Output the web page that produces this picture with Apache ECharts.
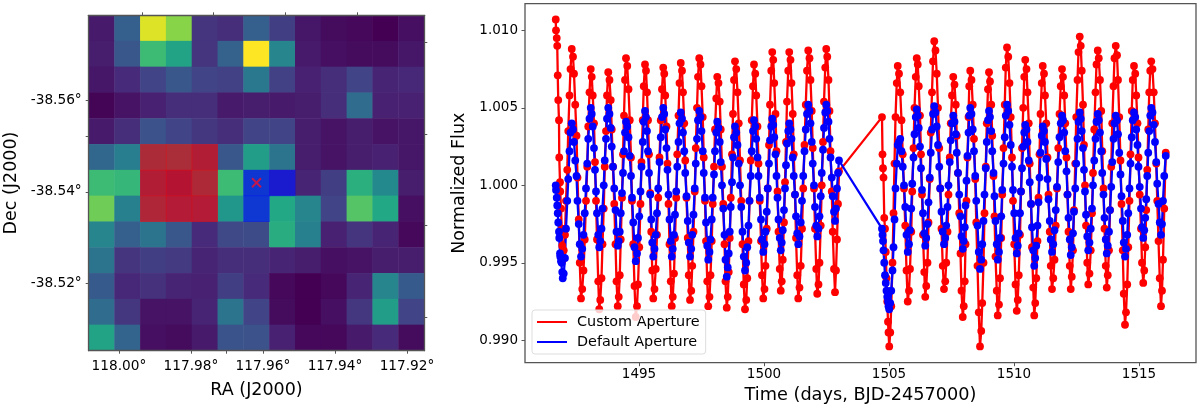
<!DOCTYPE html>
<html>
<head>
<meta charset="utf-8">
<title>TESS aperture light curves</title>
<style>
  html, body { margin: 0; padding: 0; background: #fff; }
  #chart { width: 1200px; height: 408px; }
</style>
<script src="https://cdn.jsdelivr.net/npm/echarts@6/dist/echarts.min.js"></script>
</head>
<body>
<div id="chart"></div>
<script>
// target pixel file, rows top to bottom, viridis scale 0-1
const pixelRows = [
  [0.07, 0.30, 0.95, 0.82, 0.15, 0.13, 0.30, 0.18, 0.06, 0.03, 0.02, 0.00, 0.04],
  [0.08, 0.27, 0.68, 0.58, 0.15, 0.31, 1.00, 0.45, 0.07, 0.04, 0.03, 0.03, 0.06],
  [0.06, 0.12, 0.20, 0.27, 0.20, 0.19, 0.40, 0.19, 0.09, 0.13, 0.20, 0.10, 0.11],
  [0.01, 0.05, 0.09, 0.13, 0.13, 0.07, 0.08, 0.07, 0.08, 0.13, 0.35, 0.09, 0.09],
  [0.07, 0.13, 0.25, 0.20, 0.16, 0.13, 0.20, 0.20, 0.08, 0.05, 0.08, 0.05, 0.06],
  [0.33, 0.42, 0.35, 0.38, 0.22, 0.27, 0.55, 0.38, 0.08, 0.05, 0.08, 0.09, 0.06],
  [0.68, 0.66, 0.22, 0.15, 0.33, 0.68, 0.47, 0.20, 0.10, 0.18, 0.63, 0.47, 0.08],
  [0.78, 0.43, 0.30, 0.20, 0.20, 0.52, 0.48, 0.60, 0.45, 0.20, 0.73, 0.60, 0.04],
  [0.45, 0.30, 0.38, 0.27, 0.12, 0.22, 0.23, 0.62, 0.43, 0.09, 0.15, 0.10, 0.02],
  [0.38, 0.15, 0.18, 0.17, 0.10, 0.13, 0.13, 0.10, 0.08, 0.04, 0.05, 0.08, 0.08],
  [0.28, 0.11, 0.14, 0.10, 0.09, 0.18, 0.12, 0.02, 0.00, 0.02, 0.10, 0.45, 0.28],
  [0.35, 0.16, 0.05, 0.05, 0.10, 0.38, 0.20, 0.03, 0.00, 0.04, 0.16, 0.55, 0.20],
  [0.58, 0.32, 0.04, 0.03, 0.07, 0.26, 0.25, 0.09, 0.02, 0.02, 0.07, 0.12, 0.03]
]
// [col, row, 1] of the apertures
const customAperture = [[2, 5, 1], [3, 5, 1], [4, 5, 1], [2, 6, 1], [3, 6, 1], [4, 6, 1], [2, 7, 1], [3, 7, 1], [4, 7, 1]]
const defaultAperture = [[6, 6, 1], [7, 6, 1], [6, 7, 1]]
const targetPos = [117.9618, -38.542]

const raTicks = [118.00, 117.98, 117.96, 117.94, 117.92]
const raMinorTicks = [117.9701]
const raTopTicks = [117.9936, 117.9737, 117.9537, 117.9337]
const decTicks = [-38.56, -38.54, -38.52]
const decMinorTicks = [-38.5521]
const decRightTicks = [-38.5727, -38.5526, -38.5326, -38.5126]
const timeTicks = [1495, 1500, 1505, 1510, 1515]
const fluxTicks = [0.990, 0.995, 1.000, 1.005, 1.010]

// one row per half wave, same row layout in the three lists
const times = [
  1491.67, 1491.68, 1491.71, 1491.73, 1491.75, 1491.77, 1491.80, 1491.81, 1491.84, 1491.85, 1491.88, 1491.91, 1491.93, 1491.95,
  1491.99, 1492.04, 1492.08, 1492.13, 1492.17, 1492.22, 1492.26, 1492.31,
  1492.36, 1492.40, 1492.45, 1492.50, 1492.54, 1492.59, 1492.63, 1492.68,
  1492.73, 1492.78, 1492.83, 1492.88, 1492.93, 1492.97, 1493.02, 1493.07,
  1493.11, 1493.15, 1493.20, 1493.24, 1493.28, 1493.32, 1493.37, 1493.41,
  1493.45, 1493.50, 1493.54, 1493.59, 1493.63, 1493.68, 1493.72, 1493.77,
  1493.82, 1493.87, 1493.91, 1493.96, 1494.01, 1494.06, 1494.10, 1494.15,
  1494.19, 1494.23, 1494.27, 1494.32, 1494.36, 1494.40, 1494.44, 1494.48,
  1494.53, 1494.58, 1494.63, 1494.68, 1494.72, 1494.77, 1494.82, 1494.87,
  1494.92, 1494.96, 1495.01, 1495.06, 1495.10, 1495.15, 1495.19, 1495.24,
  1495.28, 1495.32, 1495.36, 1495.40, 1495.45, 1495.49, 1495.53, 1495.57,
  1495.62, 1495.67, 1495.72, 1495.77, 1495.82, 1495.87, 1495.92, 1495.97,
  1496.01, 1496.05, 1496.10, 1496.14, 1496.18, 1496.22, 1496.27, 1496.31,
  1496.35, 1496.40, 1496.44, 1496.49, 1496.53, 1496.58, 1496.62, 1496.67,
  1496.72, 1496.76, 1496.81, 1496.85, 1496.90, 1496.95, 1496.99, 1497.04,
  1497.09, 1497.13, 1497.18, 1497.23, 1497.27, 1497.32, 1497.36, 1497.41,
  1497.46, 1497.50, 1497.55, 1497.59, 1497.64, 1497.68, 1497.73, 1497.77,
  1497.82, 1497.86, 1497.91, 1497.95, 1498.00, 1498.04, 1498.09, 1498.13,
  1498.18, 1498.23, 1498.27, 1498.32, 1498.37, 1498.42, 1498.46, 1498.51,
  1498.55, 1498.59, 1498.63, 1498.67, 1498.72, 1498.76, 1498.80, 1498.84,
  1498.89, 1498.94, 1498.99, 1499.04, 1499.09, 1499.14, 1499.19, 1499.24,
  1499.29, 1499.33, 1499.38, 1499.42, 1499.47, 1499.51, 1499.56, 1499.60,
  1499.65, 1499.69, 1499.74, 1499.78, 1499.83, 1499.88, 1499.92, 1499.97,
  1500.02, 1500.06, 1500.11, 1500.15, 1500.20, 1500.24, 1500.29, 1500.33,
  1500.37, 1500.41, 1500.46, 1500.50, 1500.54, 1500.58, 1500.63, 1500.67,
  1500.71, 1500.75, 1500.80, 1500.84, 1500.88, 1500.92, 1500.97, 1501.01,
  1501.06, 1501.10, 1501.15, 1501.19, 1501.24, 1501.28, 1501.33, 1501.37,
  1501.42, 1501.47, 1501.52, 1501.57, 1501.62, 1501.67, 1501.72, 1501.77,
  1501.82, 1501.86, 1501.91, 1501.95, 1502.00, 1502.04, 1502.09, 1502.13,
  1502.18, 1502.22, 1502.27, 1502.31, 1502.36, 1502.40, 1502.45, 1502.49,
  1502.53, 1502.58, 1502.62, 1502.66, 1502.71, 1502.75, 1502.80, 1502.84,
  1502.88, 1502.92, 1502.96, 1503.00,
  // after the data gap
  1504.72, 1504.74, 1504.76, 1504.78, 1504.81, 1504.84, 1504.87, 1504.90, 1504.93, 1504.96, 1504.98, 1505.01,
  1505.05, 1505.09, 1505.14, 1505.18, 1505.22, 1505.26, 1505.31, 1505.35,
  1505.40, 1505.45, 1505.50, 1505.55, 1505.60, 1505.65, 1505.70, 1505.75,
  1505.80, 1505.84, 1505.89, 1505.93, 1505.98, 1506.02, 1506.07, 1506.11,
  1506.15, 1506.19, 1506.24, 1506.28, 1506.32, 1506.36, 1506.41, 1506.45,
  1506.49, 1506.54, 1506.58, 1506.63, 1506.67, 1506.72, 1506.76, 1506.81,
  1506.86, 1506.91, 1506.96, 1507.01, 1507.05, 1507.10, 1507.15, 1507.20,
  1507.25, 1507.29, 1507.34, 1507.38, 1507.43, 1507.47, 1507.52, 1507.57,
  1507.62, 1507.67, 1507.71, 1507.76, 1507.81, 1507.86, 1507.90, 1507.95,
  1507.99, 1508.03, 1508.06, 1508.10, 1508.14, 1508.18, 1508.21, 1508.25,
  1508.30, 1508.35, 1508.40, 1508.45, 1508.49, 1508.54, 1508.59, 1508.64,
  1508.69, 1508.73, 1508.78, 1508.82, 1508.87, 1508.91, 1508.96, 1509.00,
  1509.04, 1509.09, 1509.13, 1509.18, 1509.22, 1509.26, 1509.31, 1509.35,
  1509.40, 1509.44, 1509.49, 1509.53, 1509.58, 1509.63, 1509.67, 1509.72,
  1509.77, 1509.82, 1509.87, 1509.92, 1509.96, 1510.01, 1510.06, 1510.11,
  1510.15, 1510.19, 1510.24, 1510.28, 1510.32, 1510.37, 1510.41, 1510.45,
  1510.50, 1510.54, 1510.59, 1510.63, 1510.68, 1510.72, 1510.77, 1510.81,
  1510.85, 1510.89, 1510.94, 1510.98, 1511.02, 1511.06, 1511.11, 1511.15,
  1511.20, 1511.24, 1511.29, 1511.34, 1511.38, 1511.43, 1511.47, 1511.52,
  1511.57, 1511.62, 1511.67, 1511.72, 1511.77, 1511.82, 1511.87, 1511.92,
  1511.96, 1512.01, 1512.05, 1512.10, 1512.14, 1512.18, 1512.23, 1512.27,
  1512.31, 1512.36, 1512.40, 1512.45, 1512.49, 1512.54, 1512.58, 1512.63,
  1512.67, 1512.71, 1512.76, 1512.80, 1512.84, 1512.88, 1512.93, 1512.97,
  1513.02, 1513.07, 1513.12, 1513.16, 1513.21, 1513.26, 1513.30, 1513.35,
  1513.39, 1513.44, 1513.49, 1513.53, 1513.58, 1513.62, 1513.67, 1513.71,
  1513.75, 1513.80, 1513.84, 1513.89, 1513.93, 1513.98, 1514.02, 1514.07,
  1514.12, 1514.16, 1514.21, 1514.26, 1514.30, 1514.35, 1514.39, 1514.44,
  1514.48, 1514.53, 1514.57, 1514.62, 1514.66, 1514.71, 1514.75, 1514.80,
  1514.85, 1514.89, 1514.94, 1514.98, 1515.03, 1515.08, 1515.12, 1515.17,
  1515.21, 1515.25, 1515.29, 1515.33, 1515.37, 1515.41, 1515.45, 1515.49,
  1515.54, 1515.59, 1515.64, 1515.69, 1515.73, 1515.78, 1515.83, 1515.88,
  1515.92, 1515.96, 1516.01, 1516.07
]

const customFlux = [
  1.0107, 1.0100, 1.0095, 1.0090, 1.0071, 1.0055, 1.0042, 1.0018, 1.0002, 0.9996, 0.9985, 0.9972, 0.9961, 0.9952,
  0.9958, 0.9968, 0.9990, 1.0010, 1.0035, 1.0058, 1.0075, 1.0088,
  1.0083, 1.0072, 1.0052, 1.0032, 1.0005, 0.9978, 0.9950, 0.9927,
  0.9933, 0.9945, 0.9965, 0.9990, 1.0012, 1.0038, 1.0060, 1.0075,
  1.0070, 1.0058, 1.0040, 1.0015, 0.9990, 0.9965, 0.9938, 0.9920,
  0.9926, 0.9940, 0.9962, 0.9985, 1.0012, 1.0035, 1.0058, 1.0073,
  1.0068, 1.0055, 1.0036, 1.0012, 0.9988, 0.9962, 0.9938, 0.9922,
  0.9928, 0.9942, 0.9965, 0.9992, 1.0020, 1.0045, 1.0068, 1.0082,
  1.0077, 1.0062, 1.0042, 1.0018, 0.9990, 0.9962, 0.9935, 0.9915,
  0.9922, 0.9936, 0.9960, 0.9988, 1.0015, 1.0042, 1.0064, 1.0078,
  1.0074, 1.0060, 1.0042, 1.0020, 0.9995, 0.9970, 0.9945, 0.9927,
  0.9933, 0.9946, 0.9968, 0.9992, 1.0018, 1.0042, 1.0062, 1.0076,
  1.0072, 1.0058, 1.0038, 1.0014, 0.9988, 0.9962, 0.9938, 0.9922,
  0.9928, 0.9943, 0.9966, 0.9992, 1.0020, 1.0045, 1.0066, 1.0079,
  1.0074, 1.0060, 1.0040, 1.0016, 0.9992, 0.9966, 0.9942, 0.9926,
  0.9932, 0.9948, 0.9970, 0.9996, 1.0024, 1.0050, 1.0070, 1.0082,
  1.0078, 1.0064, 1.0044, 1.0018, 0.9990, 0.9964, 0.9938, 0.9922,
  0.9928, 0.9942, 0.9964, 0.9988, 1.0012, 1.0036, 1.0056, 1.0070,
  1.0066, 1.0054, 1.0036, 1.0012, 0.9988, 0.9962, 0.9938, 0.9921,
  0.9928, 0.9944, 0.9966, 0.9992, 1.0020, 1.0046, 1.0068, 1.0080,
  1.0075, 1.0060, 1.0040, 1.0016, 0.9990, 0.9962, 0.9936, 0.9920,
  0.9926, 0.9940, 0.9964, 0.9990, 1.0016, 1.0042, 1.0064, 1.0078,
  1.0072, 1.0058, 1.0038, 1.0014, 0.9990, 0.9964, 0.9942, 0.9927,
  0.9933, 0.9948, 0.9972, 0.9998, 1.0026, 1.0052, 1.0074, 1.0086,
  1.0081, 1.0066, 1.0046, 1.0022, 0.9996, 0.9970, 0.9946, 0.9932,
  0.9938, 0.9952, 0.9976, 1.0002, 1.0028, 1.0054, 1.0074, 1.0086,
  1.0081, 1.0066, 1.0046, 1.0020, 0.9994, 0.9966, 0.9942, 0.9927,
  0.9934, 0.9948, 0.9972, 0.9998, 1.0026, 1.0052, 1.0074, 1.0087,
  1.0082, 1.0068, 1.0048, 1.0024, 0.9998, 0.9972, 0.9946, 0.9930,
  0.9936, 0.9950, 0.9974, 1.0000, 1.0028, 1.0054, 1.0076, 1.0088,
  1.0083, 1.0068, 1.0048, 1.0022, 0.9996, 0.9970, 0.9946, 0.9931,
  0.9945, 0.9965, 0.9988, 1.0009,
  // after the data gap
  1.0044, 1.0020, 1.0011, 1.0005, 0.9979, 0.9972, 0.9957, 0.9940, 0.9925, 0.9912, 0.9905, 0.9896,
  0.9905, 0.9922, 0.9950, 0.9982, 1.0014, 1.0044, 1.0066, 1.0077,
  1.0072, 1.0060, 1.0042, 1.0020, 0.9998, 0.9974, 0.9945, 0.9925,
  0.9932, 0.9946, 0.9970, 0.9996, 1.0024, 1.0050, 1.0070, 1.0082,
  1.0078, 1.0064, 1.0045, 1.0020, 0.9994, 0.9968, 0.9944, 0.9928,
  0.9935, 0.9950, 0.9976, 1.0004, 1.0034, 1.0060, 1.0080, 1.0093,
  1.0087, 1.0072, 1.0050, 1.0024, 0.9998, 0.9972, 0.9948, 0.9933,
  0.9938, 0.9950, 0.9970, 0.9994, 1.0018, 1.0040, 1.0058, 1.0070,
  1.0065, 1.0052, 1.0032, 1.0008, 0.9982, 0.9956, 0.9932, 0.9915,
  0.9922, 0.9938, 0.9962, 0.9990, 1.0018, 1.0044, 1.0064, 1.0074,
  1.0068, 1.0052, 1.0030, 1.0004, 0.9976, 0.9948, 0.9918, 0.9896,
  0.9906, 0.9924, 0.9950, 0.9982, 1.0012, 1.0040, 1.0062, 1.0073,
  1.0067, 1.0052, 1.0032, 1.0006, 0.9980, 0.9954, 0.9932, 0.9916,
  0.9923, 0.9940, 0.9966, 0.9994, 1.0024, 1.0052, 1.0076, 1.0089,
  1.0083, 1.0066, 1.0044, 1.0018, 0.9990, 0.9962, 0.9936, 0.9919,
  0.9926, 0.9942, 0.9968, 0.9996, 1.0024, 1.0050, 1.0070, 1.0081,
  1.0075, 1.0060, 1.0040, 1.0014, 0.9988, 0.9960, 0.9934, 0.9916,
  0.9924, 0.9940, 0.9964, 0.9992, 1.0020, 1.0046, 1.0066, 1.0077,
  1.0072, 1.0058, 1.0040, 1.0018, 0.9994, 0.9970, 0.9948, 0.9933,
  0.9940, 0.9952, 0.9974, 0.9998, 1.0024, 1.0046, 1.0064, 1.0075,
  1.0070, 1.0058, 1.0040, 1.0018, 0.9994, 0.9970, 0.9948, 0.9933,
  0.9941, 0.9958, 0.9984, 1.0014, 1.0044, 1.0068, 1.0086, 1.0096,
  1.0090, 1.0074, 1.0052, 1.0026, 1.0000, 0.9974, 0.9950, 0.9936,
  0.9943, 0.9958, 0.9982, 1.0008, 1.0036, 1.0060, 1.0078, 1.0087,
  1.0082, 1.0068, 1.0048, 1.0022, 0.9998, 0.9972, 0.9948, 0.9934,
  0.9942, 0.9958, 0.9984, 1.0012, 1.0040, 1.0064, 1.0082, 1.0090,
  1.0084, 1.0068, 1.0044, 1.0016, 0.9988, 0.9958, 0.9930, 0.9910,
  0.9918, 0.9936, 0.9960, 0.9990, 1.0020, 1.0048, 1.0068, 1.0077,
  1.0072, 1.0058, 1.0040, 1.0018, 0.9994, 0.9972, 0.9950, 0.9937,
  0.9945, 0.9960, 0.9984, 1.0010, 1.0036, 1.0060, 1.0074, 1.0080,
  1.0075, 1.0060, 1.0040, 1.0014, 0.9990, 0.9964, 0.9940, 0.9922,
  0.9932, 0.9952, 0.9985, 1.0021
]

const defaultFlux = [
  1.0000, 0.9997, 0.9992, 0.9987, 0.9982, 0.9976, 0.9970, 0.9966, 0.9956, 0.9954, 0.9951, 0.9950, 0.9944, 0.9940,
  0.9943, 0.9953, 0.9972, 0.9990, 1.0004, 1.0022, 1.0034, 1.0040,
  1.0036, 1.0028, 1.0016, 1.0006, 0.9990, 0.9975, 0.9962, 0.9954,
  0.9959, 0.9968, 0.9982, 0.9998, 1.0014, 1.0030, 1.0043, 1.0050,
  1.0046, 1.0038, 1.0024, 1.0010, 0.9996, 0.9982, 0.9968, 0.9960,
  0.9964, 0.9972, 0.9985, 1.0000, 1.0016, 1.0030, 1.0043, 1.0050,
  1.0046, 1.0037, 1.0025, 1.0012, 0.9998, 0.9984, 0.9970, 0.9961,
  0.9964, 0.9970, 0.9982, 0.9995, 1.0008, 1.0022, 1.0034, 1.0041,
  1.0038, 1.0031, 1.0019, 1.0006, 0.9992, 0.9976, 0.9960, 0.9951,
  0.9956, 0.9966, 0.9980, 0.9996, 1.0012, 1.0028, 1.0041, 1.0048,
  1.0044, 1.0035, 1.0022, 1.0008, 0.9994, 0.9978, 0.9963, 0.9954,
  0.9959, 0.9968, 0.9982, 0.9998, 1.0015, 1.0031, 1.0044, 1.0050,
  1.0046, 1.0036, 1.0024, 1.0010, 0.9994, 0.9978, 0.9964, 0.9954,
  0.9959, 0.9968, 0.9981, 0.9996, 1.0012, 1.0028, 1.0040, 1.0047,
  1.0043, 1.0034, 1.0022, 1.0008, 0.9993, 0.9977, 0.9963, 0.9954,
  0.9959, 0.9968, 0.9981, 0.9998, 1.0014, 1.0030, 1.0042, 1.0048,
  1.0044, 1.0035, 1.0022, 1.0008, 0.9992, 0.9976, 0.9961, 0.9952,
  0.9957, 0.9965, 0.9978, 0.9992, 1.0007, 1.0022, 1.0034, 1.0041,
  1.0037, 1.0028, 1.0015, 1.0000, 0.9985, 0.9968, 0.9952, 0.9941,
  0.9947, 0.9956, 0.9970, 0.9986, 1.0002, 1.0018, 1.0031, 1.0038,
  1.0034, 1.0026, 1.0014, 1.0000, 0.9986, 0.9970, 0.9954, 0.9945,
  0.9950, 0.9960, 0.9974, 0.9990, 1.0006, 1.0022, 1.0035, 1.0042,
  1.0038, 1.0030, 1.0018, 1.0006, 0.9992, 0.9978, 0.9965, 0.9957,
  0.9962, 0.9970, 0.9983, 0.9998, 1.0014, 1.0029, 1.0038, 1.0043,
  1.0039, 1.0031, 1.0020, 1.0006, 0.9992, 0.9978, 0.9966, 0.9958,
  0.9963, 0.9971, 0.9984, 0.9998, 1.0013, 1.0027, 1.0035, 1.0040,
  1.0036, 1.0030, 1.0018, 1.0006, 0.9994, 0.9980, 0.9969, 0.9962,
  0.9967, 0.9976, 0.9990, 1.0006, 1.0022, 1.0036, 1.0046, 1.0052,
  1.0048, 1.0040, 1.0028, 1.0014, 1.0000, 0.9986, 0.9974, 0.9967,
  0.9972, 0.9980, 0.9993, 1.0008, 1.0023, 1.0037, 1.0047, 1.0052,
  1.0048, 1.0041, 1.0030, 1.0018, 1.0005, 0.9993, 0.9983, 0.9977,
  0.9985, 0.9998, 1.0008, 1.0016,
  // after the data gap
  0.9972, 0.9968, 0.9964, 0.9958, 0.9950, 0.9942, 0.9937, 0.9932, 0.9928, 0.9925, 0.9922, 0.9920,
  0.9924, 0.9932, 0.9945, 0.9960, 0.9978, 0.9998, 1.0014, 1.0026,
  1.0028, 1.0030, 1.0022, 1.0012, 1.0000, 0.9986, 0.9968, 0.9957,
  0.9962, 0.9971, 0.9985, 1.0001, 1.0018, 1.0033, 1.0044, 1.0049,
  1.0045, 1.0037, 1.0025, 1.0011, 0.9997, 0.9982, 0.9969, 0.9961,
  0.9966, 0.9975, 0.9989, 1.0005, 1.0021, 1.0036, 1.0046, 1.0051,
  1.0047, 1.0038, 1.0026, 1.0012, 0.9998, 0.9983, 0.9970, 0.9962,
  0.9966, 0.9974, 0.9986, 1.0000, 1.0015, 1.0029, 1.0040, 1.0045,
  1.0041, 1.0033, 1.0021, 1.0008, 0.9994, 0.9980, 0.9967, 0.9959,
  0.9964, 0.9973, 0.9987, 1.0003, 1.0019, 1.0034, 1.0045, 1.0050,
  1.0046, 1.0036, 1.0022, 1.0006, 0.9990, 0.9974, 0.9957, 0.9946,
  0.9952, 0.9962, 0.9977, 0.9994, 1.0011, 1.0028, 1.0042, 1.0048,
  1.0044, 1.0035, 1.0022, 1.0008, 0.9993, 0.9977, 0.9962, 0.9952,
  0.9957, 0.9966, 0.9980, 0.9997, 1.0014, 1.0031, 1.0045, 1.0052,
  1.0048, 1.0039, 1.0026, 1.0012, 0.9997, 0.9982, 0.9966, 0.9956,
  0.9961, 0.9969, 0.9982, 0.9996, 1.0011, 1.0025, 1.0034, 1.0039,
  1.0036, 1.0028, 1.0016, 1.0002, 0.9988, 0.9973, 0.9958, 0.9948,
  0.9953, 0.9961, 0.9974, 0.9989, 1.0005, 1.0021, 1.0032, 1.0038,
  1.0035, 1.0028, 1.0017, 1.0004, 0.9991, 0.9977, 0.9965, 0.9957,
  0.9962, 0.9971, 0.9984, 0.9999, 1.0015, 1.0031, 1.0040, 1.0045,
  1.0042, 1.0034, 1.0022, 1.0009, 0.9994, 0.9979, 0.9965, 0.9955,
  0.9960, 0.9969, 0.9983, 0.9998, 1.0014, 1.0030, 1.0041, 1.0047,
  1.0043, 1.0035, 1.0024, 1.0010, 0.9996, 0.9981, 0.9967, 0.9958,
  0.9963, 0.9972, 0.9985, 1.0000, 1.0016, 1.0030, 1.0041, 1.0046,
  1.0042, 1.0034, 1.0022, 1.0008, 0.9994, 0.9979, 0.9965, 0.9956,
  0.9961, 0.9970, 0.9984, 0.9999, 1.0015, 1.0030, 1.0040, 1.0045,
  1.0042, 1.0033, 1.0021, 1.0007, 0.9993, 0.9977, 0.9963, 0.9954,
  0.9959, 0.9968, 0.9982, 0.9998, 1.0014, 1.0031, 1.0042, 1.0047,
  1.0044, 1.0036, 1.0026, 1.0012, 0.9999, 0.9985, 0.9973, 0.9966,
  0.9971, 0.9979, 0.9991, 1.0006, 1.0021, 1.0035, 1.0045, 1.0050,
  1.0047, 1.0039, 1.0028, 1.0015, 1.0001, 0.9988, 0.9976, 0.9968,
  0.9975, 0.9990, 1.0006, 1.0019
]

const viridis = ['#440154', '#482475', '#414487', '#355f8d', '#2a788e', '#21918c', '#22a884', '#44bf70', '#7ad151', '#bddf26', '#fde725']
const fontName = 'DejaVu Sans'
const axisColor = '#555'

const cols = pixelRows[0].map((v, i) => i)
const rows = pixelRows.map((v, i) => i)
const pixelData = []
pixelRows.forEach((row, r) => row.forEach((v, c) => pixelData.push([c, r, v])))

const chart = echarts.init(document.getElementById('chart'), null, { renderer: 'canvas' })

function wcsAxis(grid, extra) {
  return Object.assign({
    type: 'value',
    gridIndex: grid,
    scale: true,
    splitLine: { show: false },
    axisLine: { show: true, onZero: false, lineStyle: { color: axisColor, width: 1.3 } },
    axisTick: { show: false },
    axisLabel: { show: false },
    z: 5
  }, extra)
}

chart.setOption({
  animation: false,
  backgroundColor: '#fff',
  textStyle: { fontFamily: fontName, color: '#000' },
  grid: [
    { left: 88.7, top: 15.3, width: 335.6, height: 335.4, outerBoundsMode: 'none' },
    { left: 525, top: 3.7, width: 671, height: 359, outerBoundsMode: 'none', show: true, backgroundColor: '#fff', borderColor: axisColor, borderWidth: 1.3 }
  ],
  xAxis: [
    { type: 'category', gridIndex: 0, data: cols, show: false },
    wcsAxis(0, {
      position: 'bottom', inverse: true, min: 117.9152, max: 118.0084,
      name: 'RA (J2000)', nameLocation: 'middle', nameGap: 31,
      nameTextStyle: { fontSize: 17.5, fontFamily: fontName, color: '#000' },
      axisTick: { show: true, length: 3, lineStyle: { color: axisColor }, customValues: raTicks.concat(raMinorTicks) },
      axisLabel: {
        show: true, fontSize: 13.7, fontFamily: fontName, color: '#000', margin: 9,
        customValues: raTicks, formatter: v => v.toFixed(2) + '°'
      }
    }),
    wcsAxis(0, {
      position: 'top', inverse: true, min: 117.9152, max: 118.0084,
      axisTick: { show: true, length: 3, lineStyle: { color: axisColor }, customValues: raTopTicks }
    }),
    {
      type: 'value', gridIndex: 1, min: 1490.44, max: 1517.28,
      name: 'Time (days, BJD-2457000)', nameLocation: 'middle', nameGap: 23,
      nameTextStyle: { fontSize: 17.7, fontFamily: fontName, color: '#000' },
      splitLine: { show: false },
      axisLine: { show: false },
      axisTick: { show: true, length: 3.5, lineStyle: { color: axisColor }, customValues: timeTicks },
      axisLabel: { fontSize: 13.5, fontFamily: fontName, color: '#000', margin: 5, customValues: timeTicks, formatter: v => String(v) }
    }
  ],
  yAxis: [
    { type: 'category', gridIndex: 0, data: rows, inverse: true, show: false },
    wcsAxis(0, {
      position: 'left', inverse: true, min: -38.5787, max: -38.5052,
      name: 'Dec (J2000)', nameLocation: 'middle', nameGap: 68,
      nameTextStyle: { fontSize: 17.5, fontFamily: fontName, color: '#000' },
      axisTick: { show: true, length: 3, lineStyle: { color: axisColor }, customValues: decTicks.concat(decMinorTicks) },
      axisLabel: {
        show: true, fontSize: 13.7, fontFamily: fontName, color: '#000', margin: 7,
        customValues: decTicks, formatter: v => v.toFixed(2) + '°'
      }
    }),
    wcsAxis(0, {
      position: 'right', inverse: true, min: -38.5787, max: -38.5052,
      axisTick: { show: true, length: 3, lineStyle: { color: axisColor }, customValues: decRightTicks }
    }),
    {
      type: 'value', gridIndex: 1, min: 0.98855, max: 1.01172,
      name: 'Normalized Flux', nameLocation: 'middle', nameGap: 51,
      nameTextStyle: { fontSize: 17.5, fontFamily: fontName, color: '#000' },
      splitLine: { show: false },
      axisLine: { show: false },
      axisTick: { show: true, length: 3.5, lineStyle: { color: axisColor }, customValues: fluxTicks },
      axisLabel: { fontSize: 13.5, fontFamily: fontName, color: '#000', margin: 7, customValues: fluxTicks, formatter: v => v.toFixed(3) }
    }
  ],
  visualMap: {
    show: false,
    seriesIndex: 0,
    min: 0,
    max: 1,
    inRange: { color: viridis }
  },
  legend: {
    orient: 'vertical',
    left: 532,
    top: 310,
    padding: [5, 6, 5, 5],
    itemGap: 6,
    itemWidth: 30,
    itemHeight: 2,
    icon: 'rect',
    backgroundColor: 'rgba(255,255,255,0.8)',
    borderColor: '#ddd',
    borderWidth: 1,
    borderRadius: 3,
    textStyle: { fontSize: 14.4, fontFamily: fontName, color: '#000', padding: [0, 0, 0, 5] },
    data: ['Custom Aperture', 'Default Aperture']
  },
  series: [
    {
      type: 'heatmap', xAxisIndex: 0, yAxisIndex: 0,
      data: pixelData, progressive: 0, itemStyle: { borderWidth: 0 }, silent: true
    },
    {
      type: 'heatmap', xAxisIndex: 0, yAxisIndex: 0,
      data: customAperture, itemStyle: { color: 'rgba(255,0,0,0.6)', borderWidth: 0 }, silent: true
    },
    {
      type: 'heatmap', xAxisIndex: 0, yAxisIndex: 0,
      data: defaultAperture, itemStyle: { color: 'rgba(0,0,255,0.6)', borderWidth: 0 }, silent: true
    },
    {
      type: 'scatter', xAxisIndex: 1, yAxisIndex: 1,
      data: [targetPos],
      symbol: 'path://M0 0L10 10M10 0L0 10',
      symbolSize: 9,
      itemStyle: { color: 'none', borderColor: '#f0102a', borderWidth: 1.9 },
      silent: true, z: 6
    },
    {
      name: 'Custom Aperture', type: 'line', xAxisIndex: 3, yAxisIndex: 3,
      data: times.map((t, i) => [t, customFlux[i]]),
      symbol: 'circle', symbolSize: 7.8, showSymbol: true,
      lineStyle: { color: '#f00', width: 2.3 }, itemStyle: { color: '#f00' }, silent: true
    },
    {
      name: 'Default Aperture', type: 'line', xAxisIndex: 3, yAxisIndex: 3,
      data: times.map((t, i) => [t, defaultFlux[i]]),
      symbol: 'circle', symbolSize: 7.8, showSymbol: true,
      lineStyle: { color: '#00f', width: 2.3 }, itemStyle: { color: '#00f' }, silent: true
    }
  ]
})
</script>
</body>
</html>
